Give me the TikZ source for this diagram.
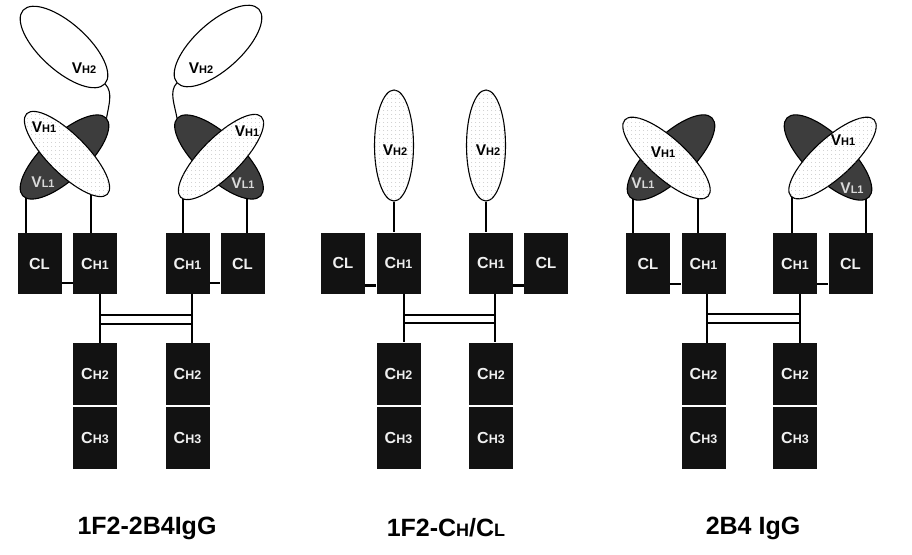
\documentclass[tikz,border=0pt]{standalone}
\usepackage{fontspec}
\setmainfont{Liberation Sans}
\usetikzlibrary{shapes.geometric,patterns.meta}
\newcommand\dlab[2]{{\fontsize{16}{16}\selectfont #1}{\fontsize{12.5}{12.5}\selectfont #2}}
\newcommand\llab{{\fontsize{16}{16}\selectfont C}{\fontsize{15}{15}\selectfont L}}
\newcommand\vlab[2]{{\fontsize{15.5}{15.5}\selectfont #1}{\fontsize{11}{11}\selectfont #2}}
\tikzset{
 dom/.style={fill=black!93, draw=none, minimum width=44pt, minimum height=61pt, inner sep=0pt, text=black!6, font=\bfseries},
 cdom/.style={dom, minimum height=62pt},
 stalk/.style={line width=1.4pt, black},
 hingeline/.style={line width=1.5pt},
 ssline/.style={line width=1.2pt},
 barline/.style={line width=2.6pt},
 vdot/.style={ellipse, draw, line width=1.1pt, fill=white, postaction={pattern={Dots[distance=4pt, radius=0.45pt]}, pattern color=black!40}, inner sep=0pt},
 vdark/.style={ellipse, draw, line width=1.1pt, fill=black!76, inner sep=0pt},
 vwhite/.style={ellipse, draw, line width=1.1pt, fill=white, inner sep=0pt},
 darklbl/.style={inner sep=0pt, font=\bfseries, text=black},
 lightlbl/.style={inner sep=0pt, font=\bfseries, text=black!15},
 title/.style={inner sep=0pt, font=\bfseries\fontsize{25}{25}\selectfont},
}
\begin{document}
\begin{tikzpicture}[x=1pt,y=-1pt]
\useasboundingbox (0,0) rectangle (912,554);
% ================= Panel 1 =================
\node[dom] (a-cl) at (39.5,263.5) {\llab};
\node[dom] (a-ch1) at (95,263.5) {\dlab{C}{H1}};
\node[dom] (a-ch1r) at (187.5,263.5) {\dlab{C}{H1}};
\node[dom] (a-clr) at (242.5,263.5) {\llab};
\node[cdom] (a-ch2) at (95,374) {\dlab{C}{H2}};
\node[cdom] (a-ch3) at (95,438) {\dlab{C}{H3}};
\node[cdom] (a-ch2r) at (187.5,374) {\dlab{C}{H2}};
\node[cdom] (a-ch3r) at (187.5,438) {\dlab{C}{H3}};
\draw[barline] ([yshift=-19.5pt]a-cl.east) -- ([yshift=-19.5pt]a-ch1.west);
\draw[barline] ([yshift=-19.5pt]a-ch1r.east) -- ([yshift=-19.5pt]a-clr.west);
\draw[hingeline] ([xshift=5pt]a-ch1.south) -- ([xshift=5pt]a-ch2.north);
\draw[hingeline] ([xshift=4.5pt]a-ch1r.south) -- ([xshift=4.5pt]a-ch2r.north);
\coordinate (a-h1) at (100,315); \coordinate (a-h2) at (192,315);
\coordinate (a-h3) at (100,324); \coordinate (a-h4) at (192,324);
\draw[ssline] (a-h1) -- (a-h2);
\draw[ssline] (a-h3) -- (a-h4);
\draw[stalk] ([xshift=-13.5pt]a-cl.north) -- ++(0,-42);
\draw[stalk] ([xshift=-4pt]a-ch1.north) -- ++(0,-42);
\draw[stalk] ([xshift=-4.5pt]a-ch1r.north) -- ++(0,-42);
\draw[stalk] ([xshift=4.5pt]a-clr.north) -- ++(0,-42);
% left arm
\node[vwhite, minimum width=110pt, minimum height=47pt, rotate=-42] (a-vh2) at (64,47) {};
\node[vdark, minimum width=114pt, minimum height=44pt, rotate=43] (a-vl1) at (64.5,157) {};
\node[vdot, minimum width=114pt, minimum height=39pt, rotate=-45] (a-vh1) at (67,154) {};
\draw[line width=1.1pt] (a-vh2.east) .. controls +(8,8) and +(2,-12) .. (a-vl1.east);
% right arm
\node[vwhite, minimum width=110pt, minimum height=47pt, rotate=42] (a-vh2r) at (218,46) {};
\node[vdark, minimum width=114pt, minimum height=44pt, rotate=-43] (a-vl1r) at (219,157) {};
\node[vdot, minimum width=114pt, minimum height=39pt, rotate=45] (a-vh1r) at (221,157) {};
\draw[line width=1.1pt] (a-vh2r.west) .. controls +(-8,8) and +(-2,-12) .. (a-vl1r.west);
\node[darklbl] (a-t1) at (84,68) {\vlab{V}{H2}};
\node[darklbl] (a-t2) at (201,68) {\vlab{V}{H2}};
\node[darklbl] (a-t3) at (44,127) {\vlab{V}{H1}};
\node[lightlbl] (a-t4) at (43,182) {\vlab{V}{L1}};
\node[darklbl] (a-t5) at (247,131) {\vlab{V}{H1}};
\node[lightlbl] (a-t6) at (243,183) {\vlab{V}{L1}};
\node[title] (a-title) at (147,528) {1F2-2B4IgG};
% ================= Panel 2 =================
\node[dom] (b-cl) at (343,263) {\llab};
\node[dom] (b-ch1) at (398.5,263) {\dlab{C}{H1}};
\node[dom] (b-ch1r) at (491,263) {\dlab{C}{H1}};
\node[dom] (b-clr) at (546,263) {\llab};
\node[cdom] (b-ch2) at (398.5,373.5) {\dlab{C}{H2}};
\node[cdom] (b-ch3) at (398.5,437.5) {\dlab{C}{H3}};
\node[cdom] (b-ch2r) at (491,373.5) {\dlab{C}{H2}};
\node[cdom] (b-ch3r) at (491,437.5) {\dlab{C}{H3}};
\draw[barline] ([yshift=-22.5pt]b-cl.east) -- ([yshift=-22.5pt]b-ch1.west);
\draw[barline] ([yshift=-22.5pt]b-ch1r.east) -- ([yshift=-22.5pt]b-clr.west);
\draw[hingeline] ([xshift=5.5pt]b-ch1.south) -- ([xshift=5.5pt]b-ch2.north);
\draw[hingeline] ([xshift=4pt]b-ch1r.south) -- ([xshift=4pt]b-ch2r.north);
\coordinate (b-h1) at (404,315); \coordinate (b-h2) at (495,315);
\coordinate (b-h3) at (404,323); \coordinate (b-h4) at (495,323);
\draw[ssline] (b-h1) -- (b-h2);
\draw[ssline] (b-h3) -- (b-h4);
\node[vdot, minimum width=39pt, minimum height=111pt] (b-vh2) at (394,145.5) {};
\node[vdot, minimum width=39pt, minimum height=111pt] (b-vh2r) at (486,145.5) {};
\draw[stalk] (b-vh2.south) -- (b-vh2.south |- b-ch1.north);
\draw[stalk] (b-vh2r.south) -- (b-vh2r.south |- b-ch1r.north);
\node[darklbl] (b-t1) at (395,150) {\vlab{V}{H2}};
\node[darklbl] (b-t2) at (488,150) {\vlab{V}{H2}};
\node[title] (b-title) at (446,528) {1F2-C{\fontsize{18}{18}\selectfont H}/C{\fontsize{18}{18}\selectfont L}};
% ================= Panel 3 =================
\node[dom] (c-cl) at (648,263.5) {\llab};
\node[dom] (c-ch1) at (703.5,263.5) {\dlab{C}{H1}};
\node[dom] (c-ch1r) at (795,263.5) {\dlab{C}{H1}};
\node[dom] (c-clr) at (850.5,263.5) {\llab};
\node[cdom] (c-ch2) at (703.5,374) {\dlab{C}{H2}};
\node[cdom] (c-ch3) at (703.5,438) {\dlab{C}{H3}};
\node[cdom] (c-ch2r) at (795,374) {\dlab{C}{H2}};
\node[cdom] (c-ch3r) at (795,438) {\dlab{C}{H3}};
\draw[barline] ([yshift=-20.5pt]c-cl.east) -- ([yshift=-20.5pt]c-ch1.west);
\draw[barline] ([yshift=-20.5pt]c-ch1r.east) -- ([yshift=-20.5pt]c-clr.west);
\draw[hingeline] ([xshift=3.5pt]c-ch1.south) -- ([xshift=3.5pt]c-ch2.north);
\draw[hingeline] ([xshift=5pt]c-ch1r.south) -- ([xshift=5pt]c-ch2r.north);
\coordinate (c-h1) at (707,314); \coordinate (c-h2) at (800,314);
\coordinate (c-h3) at (707,323); \coordinate (c-h4) at (800,323);
\draw[ssline] (c-h1) -- (c-h2);
\draw[ssline] (c-h3) -- (c-h4);
\draw[stalk] ([xshift=-15pt]c-cl.north) -- ++(0,-42);
\draw[stalk] ([xshift=-5.5pt]c-ch1.north) -- ++(0,-42);
\draw[stalk] ([xshift=-3pt]c-ch1r.north) -- ++(0,-42);
\draw[stalk] ([xshift=15.5pt]c-clr.north) -- ++(0,-42);
\node[vdark, minimum width=114pt, minimum height=44pt, rotate=44] (c-vl1) at (671,157.5) {};
\node[vdot, minimum width=113pt, minimum height=39pt, rotate=-42.5] (c-vh1) at (666.5,158) {};
\node[vdark, minimum width=114pt, minimum height=44pt, rotate=-44] (c-vl1r) at (828,157.5) {};
\node[vdot, minimum width=113pt, minimum height=39pt, rotate=42.5] (c-vh1r) at (832.5,158) {};
\node[darklbl] (c-t1) at (663,152) {\vlab{V}{H1}};
\node[lightlbl] (c-t2) at (643,183) {\vlab{V}{L1}};
\node[darklbl] (c-t3) at (843,140) {\vlab{V}{H1}};
\node[lightlbl] (c-t4) at (852,188) {\vlab{V}{L1}};
\node[title] (c-title) at (753,528) {2B4 IgG};
\end{tikzpicture}
\end{document}
